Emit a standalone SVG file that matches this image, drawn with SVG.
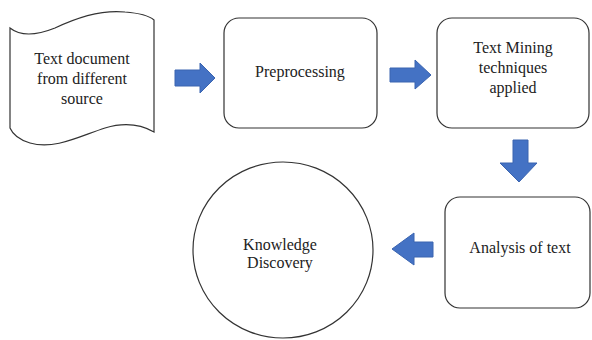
<svg xmlns="http://www.w3.org/2000/svg" width="592" height="340" viewBox="0 0 592 340">
<style>
.shape{fill:#fff;stroke:#333;stroke-width:1.2}
.arrow{fill:#4472C4;stroke:#3A64B0;stroke-width:1}
.lbl{font-family:'Liberation Serif','DejaVu Serif',serif;font-size:16px;fill:#222;text-anchor:middle}
</style>
<rect width="592" height="340" fill="#fff"/>
<g id="connectors">
<path class="arrow" d="M175,70 L200,70 L200,63 L215,78 L200,93 L200,86 L175,86 Z"/>
<path class="arrow" d="M390,68 L415,68 L415,60 L431,75 L415,89 L415,82 L390,82 Z"/>
<path class="arrow" d="M513,140 L528,140 L528,163 L537,163 L519,182 L500,163 L513,163 Z"/>
<path class="arrow" d="M433,242 L414,242 L414,233 L392,249 L414,265 L414,257 L433,257 Z"/>
</g>
<g id="doc">
<path class="shape" d="M10,28 C20,36 35,36 55,28 C80,16 105,10 125,12 C138,13 148,15 154,20 L154,132 C140,124 125,122 105,128 C80,136 55,150 30,143 C20,140 13,135 10,128 Z"/>
<text class="lbl" x="82" y="64" font-family="Liberation Serif, serif">Text document</text>
<text class="lbl" x="82" y="84" font-family="Liberation Serif, serif">from different</text>
<text class="lbl" x="82" y="104" font-family="Liberation Serif, serif">source</text>
</g>
<g id="preprocessing">
<rect class="shape" x="224" y="18" width="153" height="110" rx="15"/>
<text class="lbl" x="300" y="77">Preprocessing</text>
</g>
<g id="mining">
<rect class="shape" x="437" y="18" width="152" height="110" rx="15"/>
<text class="lbl" x="513" y="53">Text Mining</text>
<text class="lbl" x="513" y="73">techniques</text>
<text class="lbl" x="513" y="93">applied</text>
</g>
<g id="analysis">
<rect class="shape" x="445" y="197" width="145" height="111" rx="15"/>
<text class="lbl" x="520" y="253">Analysis of text</text>
</g>
<g id="knowledge">
<ellipse class="shape" cx="283" cy="250" rx="90" ry="88"/>
<text class="lbl" x="280" y="250">Knowledge</text>
<text class="lbl" x="280" y="268">Discovery</text>
</g>
</svg>
